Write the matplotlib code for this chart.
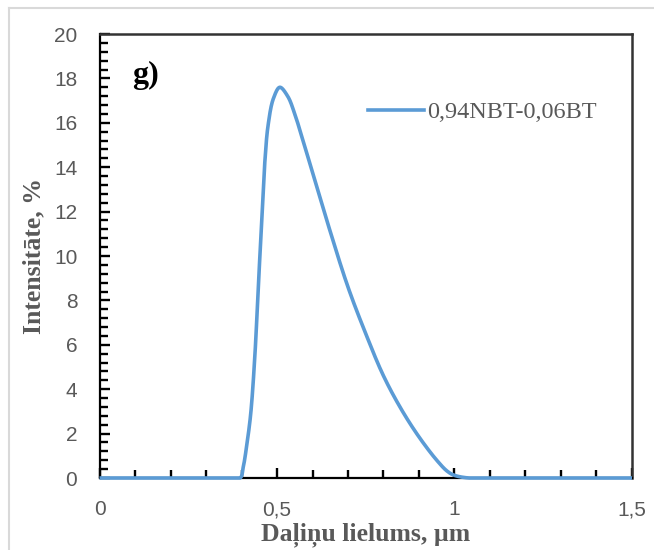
import numpy as np
import matplotlib.pyplot as plt
from matplotlib.ticker import MultipleLocator, FuncFormatter
from matplotlib.lines import Line2D

# daļiņu izmēru sadalījums
size_um = [0.0, 0.30, 0.37, 0.396, 0.405, 0.415, 0.426, 0.438, 0.447, 0.457,
           0.466, 0.475, 0.49, 0.508, 0.53, 0.55, 0.575, 0.607, 0.65, 0.70,
           0.75, 0.80, 0.85, 0.90, 0.95, 0.98, 1.0, 1.04, 1.10, 1.5]
intensity = [0.0, 0.0, 0.0, 0.0, 0.5, 1.5, 2.9, 5.6, 8.5, 11.6,
             14.3, 15.9, 17.1, 17.6, 17.2, 16.4, 15.1, 13.4, 11.1, 8.6,
             6.5, 4.6, 3.1, 1.85, 0.8, 0.3, 0.12, 0.0, 0.0, 0.0]
series_name = '0,94NBT-0,06BT'

gray = '#595959'
blue = '#5B9BD5'


def smooth_line(xs, ys, n=30):
    # centripetālais Catmull-Rom splains, kā "smoothed line" izklājlapās
    p = np.column_stack([xs, ys]).astype(float)
    scale = np.array([1 / 1.5, 1 / 20])
    p = np.vstack([2 * p[0] - p[1], p, 2 * p[-1] - p[-2]])
    out = [p[1]]
    for i in range(1, len(p) - 2):
        p0, p1, p2, p3 = p[i - 1], p[i], p[i + 1], p[i + 2]
        d = lambda a, b: np.sqrt(np.linalg.norm((b - a) * scale)) + 1e-9
        t0 = 0.0
        t1 = t0 + d(p0, p1)
        t2 = t1 + d(p1, p2)
        t3 = t2 + d(p2, p3)
        t = np.linspace(t1, t2, n)[1:, None]
        a1 = (t1 - t) / (t1 - t0) * p0 + (t - t0) / (t1 - t0) * p1
        a2 = (t2 - t) / (t2 - t1) * p1 + (t - t1) / (t2 - t1) * p2
        a3 = (t3 - t) / (t3 - t2) * p2 + (t - t2) / (t3 - t2) * p3
        b1 = (t2 - t) / (t2 - t0) * a1 + (t - t0) / (t2 - t0) * a2
        b2 = (t3 - t) / (t3 - t1) * a2 + (t - t1) / (t3 - t1) * a3
        c = (t2 - t) / (t2 - t1) * b1 + (t - t1) / (t2 - t1) * b2
        out.extend(c)
    out = np.array(out)
    return out[:, 0], np.maximum(out[:, 1], 0)


fig = plt.figure(figsize=(6.54, 5.5), dpi=100)
ax = fig.add_axes([99.5 / 654, 72 / 550, 532.5 / 654, 444 / 550])

sx, sy = smooth_line(size_um, intensity)
ax.plot(sx, sy, color=blue, lw=2.6, zorder=5, clip_on=False,
        solid_capstyle='butt', solid_joinstyle='round')

ax.set_xlim(0, 1.5)
ax.set_ylim(0, 20)
ax.xaxis.set_major_locator(MultipleLocator(0.5))
ax.xaxis.set_minor_locator(MultipleLocator(0.1))
ax.yaxis.set_major_locator(MultipleLocator(2))
ax.yaxis.set_minor_locator(MultipleLocator(0.4))
ax.xaxis.set_major_formatter(FuncFormatter(lambda v, p: f'{v:g}'.replace('.', ',')))

ax.tick_params(which='both', direction='in', color='black', width=1.7,
               labelsize=15, labelcolor=gray, top=False, right=False)
ax.tick_params(which='major', length=7.5)
ax.tick_params(which='minor', length=5.5)
ax.tick_params(axis='x', pad=16)
ax.tick_params(axis='y', pad=16)
for lbl in ax.get_xticklabels() + ax.get_yticklabels():
    lbl.set_fontfamily('Liberation Sans')

for side in ['left', 'bottom']:
    ax.spines[side].set_color('black')
    ax.spines[side].set_linewidth(1.6)
for side in ['top', 'right']:
    ax.spines[side].set_color('#333333')
    ax.spines[side].set_linewidth(1.8)

ax.set_xlabel('Daļiņu lielums, µm', family='Liberation Serif', fontweight='bold',
              fontsize=18.5, color=gray, labelpad=2)
ax.set_ylabel('Intensitāte, %', family='Liberation Serif', fontweight='bold',
              fontsize=18.5, color=gray, labelpad=6)

ax.text(0.092, 18.15, 'g)', family='Liberation Serif', fontweight='bold',
        fontsize=23, color='black', ha='left', va='center')

handle = Line2D([], [], color=blue, lw=2.6)
ax.legend([handle], [series_name], loc='center left',
          bbox_to_anchor=(0.504, 0.824), frameon=False, borderpad=0,
          borderaxespad=0, handlelength=2.3, handletextpad=0.15,
          prop={'family': 'Liberation Serif', 'size': 17.5},
          labelcolor=gray)

# rāmis ap diagrammas laukumu
fig.add_artist(Line2D([9 / 654, 1], [1 - 8 / 550, 1 - 8 / 550],
                      color='#D9D9D9', lw=1.5))
fig.add_artist(Line2D([9 / 654, 9 / 654], [0, 1 - 8 / 550],
                      color='#D9D9D9', lw=1.5))

fig.savefig('out.png', dpi=100)
